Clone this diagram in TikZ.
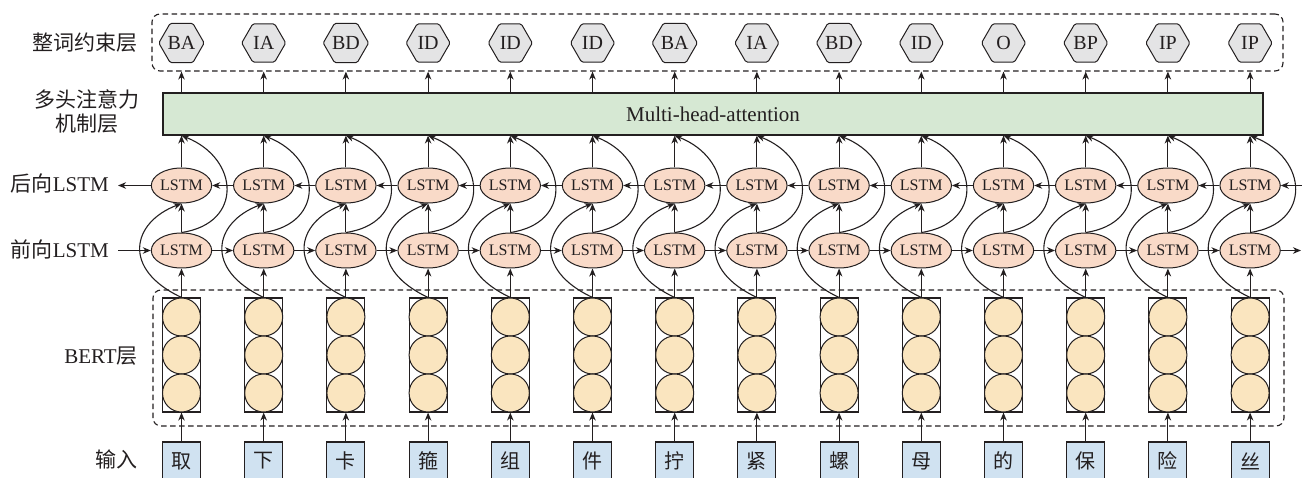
\documentclass[tikz,border=0pt]{standalone}
\usepackage{fontspec}
\setmainfont{Liberation Serif}
\newfontfamily\cjk{Noto Sans CJK SC}
\usetikzlibrary{shapes.geometric,arrows.meta,calc}
\definecolor{ink}{HTML}{231F20}
\definecolor{hexfill}{HTML}{E4E4E5}
\definecolor{attfill}{HTML}{D6E8D3}
\definecolor{lstmfill}{HTML}{F9DAC8}
\definecolor{bertfill}{HTML}{FAE5BF}
\definecolor{infill}{HTML}{D0E2F1}
\begin{document}
\begin{tikzpicture}[x=1pt,y=-1pt,
  lab/.style={font=\fontsize{21}{24}\selectfont, text=ink, inner sep=0pt},
  hexa/.style={regular polygon, regular polygon sides=6, draw=ink, line width=1pt,
    rounded corners=1.5pt, fill=hexfill, minimum size=44pt, inner sep=0pt, text=ink,
    font=\fontsize{20}{23}\selectfont},
  lstm/.style={ellipse, draw=ink, line width=1pt, fill=lstmfill, minimum width=56pt,
    minimum height=35pt, inner sep=0pt, text=ink, font=\fontsize{16}{19}\selectfont},
  bertcol/.style={rectangle, draw=ink, line width=1.1pt, minimum width=38pt,
    minimum height=114pt, inner sep=0pt},
  neuron/.style={circle, draw=ink, line width=1pt, fill=bertfill, minimum size=38pt,
    inner sep=0pt},
  inbox/.style={rectangle, draw=ink, line width=1.1pt, fill=infill, minimum width=38pt,
    minimum height=38pt, inner sep=0pt, text=ink, font=\cjk\fontsize{20}{24}\selectfont},
  groupbox/.style={rectangle, draw=ink, line width=1.1pt, dash pattern=on 5.5pt off 3.5pt,
    rounded corners=8pt, inner sep=0pt},
  arr/.style={-{Stealth[length=8pt,width=6.5pt,inset=2.5pt]}, line width=1.1pt, draw=ink},
]
\clip (0,0) rectangle (1302,478);

% layer boxes
\node[groupbox, minimum width=1131pt, minimum height=57pt] (cbox) at (717.5,42.5) {};
\node[groupbox, minimum width=1131pt, minimum height=136pt] (bbox) at (718.5,358) {};
\node[rectangle, draw=ink, line width=1.1pt, fill=attfill, minimum width=1100pt,
  minimum height=42pt, inner sep=0pt, text=ink, font=\fontsize{21}{24}\selectfont]
  (mha) at (713,114) {Multi-head-attention};

% layer labels
\node[lab, anchor=east] (l1) at (138,43) {\cjk 整词约束层};
\node[lab, align=center] (l2) at (87,112) {{\cjk 多头注意力}\\{\cjk 机制层}};
\node[lab, anchor=east] (l3) at (109,184) {{\cjk 后向}LSTM};
\node[lab, anchor=east] (l4) at (109,249) {{\cjk 前向}LSTM};
\node[lab, anchor=east] (l5) at (138,356) {BERT{\cjk 层}};
\node[lab, anchor=east] (l6) at (138,459) {\cjk 输入};

% one column per character
\foreach \h/\c [count=\k from 0] in {BA/取,IA/下,BD/卡,ID/箍,ID/组,ID/件,BA/拧,IA/紧,BD/螺,ID/母,O/的,BP/保,IP/险,IP/丝} {
  \pgfmathsetmacro\xx{181.5+82.2*\k}
  \node[hexa] (hex\k) at (\xx,43) {\h};
  \node[lstm] (bwd\k) at (\xx,185.5) {LSTM};
  \node[lstm] (fwd\k) at (\xx,250.5) {LSTM};
  \node[bertcol] (bert\k) at (\xx,355) {};
  \node[neuron] (na\k) at (\xx,317) {};
  \node[neuron] (nb\k) at (\xx,355) {};
  \node[neuron] (nc\k) at (\xx,393) {};
  \node[inbox] (in\k) at (\xx,461) {\c};
  \coordinate (mb\k) at (bwd\k.north |- mha.south);
  \coordinate (mt\k) at (hex\k |- mha.north);
  \coordinate (cb\k) at (hex\k |- cbox.south);
}

% vertical and skip connections
\foreach \k in {0,...,13} {
  \draw[arr] (in\k.north) -- (bert\k.south);
  \draw[arr] (bert\k.north) -- (fwd\k.south);
  \draw[arr] (fwd\k.north) -- (bwd\k.south);
  \draw[arr] (bwd\k.north) -- (mb\k);
  \draw[arr] (mt\k) -- (cb\k);
  \draw[arr] (bert\k.north) .. controls ($(bert\k.north)+(-60,-28)$)
    and ($(bwd\k.south)+(-50,19)$) .. (bwd\k.south);
  \draw[arr] (fwd\k.north) .. controls ($(fwd\k.north)+(62,-9)$)
    and ($(mb\k)+(58,23)$) .. (mb\k);
}

% recurrent connections
\foreach \k [count=\j] in {0,...,12} {
  \draw[arr] (fwd\k.east) -- (fwd\j.west);
  \draw[arr] (bwd\j.west) -- (bwd\k.east);
}
\coordinate (fin) at (118,250.5);
\coordinate (fout) at (1301,250.5);
\coordinate (bin) at (1303,185.5);
\coordinate (bout) at (118,185.5);
\draw[arr] (fin) -- (fwd0.west);
\draw[arr] (fwd13.east) -- (fout);
\draw[arr] (bin) -- (bwd13.east);
\draw[arr] (bwd0.west) -- (bout);
\end{tikzpicture}
\end{document}
